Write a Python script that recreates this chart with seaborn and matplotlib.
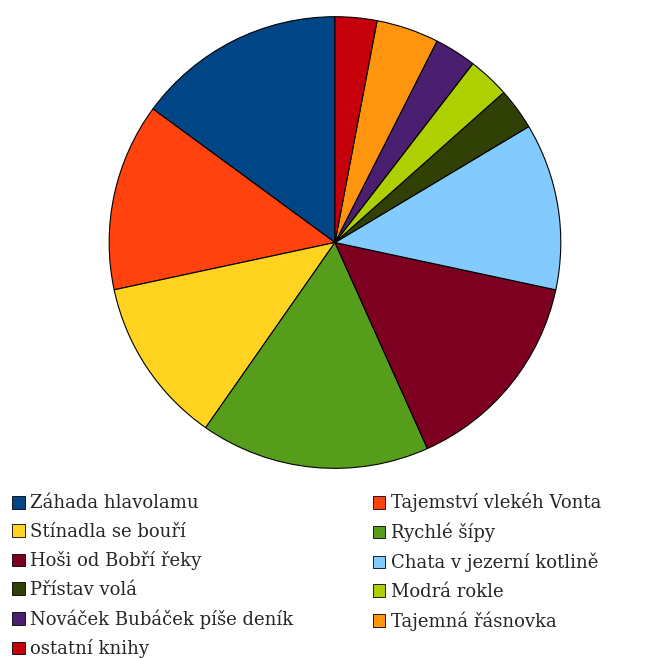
import matplotlib
matplotlib.use("Agg")
import matplotlib.pyplot as plt
from matplotlib.patches import Patch
import seaborn as sns

# data
knihy = ['Záhada hlavolamu', 'Tajemství vlekéh Vonta', 'Stínadla se bouří', 'Rychlé šípy',
         'Hoši od Bobří řeky', 'Chata v jezerní kotlině', 'Přístav volá', 'Modrá rokle',
         'Nováček Bubáček píše deník', 'Tajemná řásnovka', 'ostatní knihy']
pocty = [10, 9, 8, 11, 10, 8, 2, 2, 2, 3, 2]
barvy = ['#004586', '#ff420e', '#ffd320', '#579d1c', '#7e0021', '#83caff',
         '#314004', '#aecf00', '#4b1f6f', '#ff950e', '#c5000b']

sns.set_theme(style="white")
plt.rcParams['font.family'] = ['DejaVu Serif']
pal = sns.color_palette(barvy)

fig = plt.figure(figsize=(6.57, 6.58), dpi=100)
ax = fig.add_axes([0.1651, 0.2872, 453 / 657, 453 / 658])
ax.pie(pocty, colors=pal, startangle=90, counterclock=True,
       wedgeprops=dict(edgecolor='black', linewidth=0.8))
ax.set_xlim(-1.003, 1.003)
ax.set_ylim(-1.003, 1.003)
ax.set_aspect('equal')

# legenda po radcich -> preskladat na sloupce (ncol plni po sloupcich)
idx = list(range(0, 11, 2)) + list(range(1, 11, 2))
handles = [Patch(facecolor=pal[i], edgecolor='black', linewidth=0.6) for i in idx]
labels = [knihy[i] for i in idx]
fig.legend(handles, labels, ncol=2, loc='upper left', bbox_to_anchor=(12 / 657, 1 - 493 / 658),
           frameon=False, fontsize=13, handlelength=0.7, handleheight=0.7,
           handletextpad=0.3, columnspacing=4.4, labelspacing=0.58,
           borderpad=0, borderaxespad=0)

fig.savefig('out.png', dpi=100)
